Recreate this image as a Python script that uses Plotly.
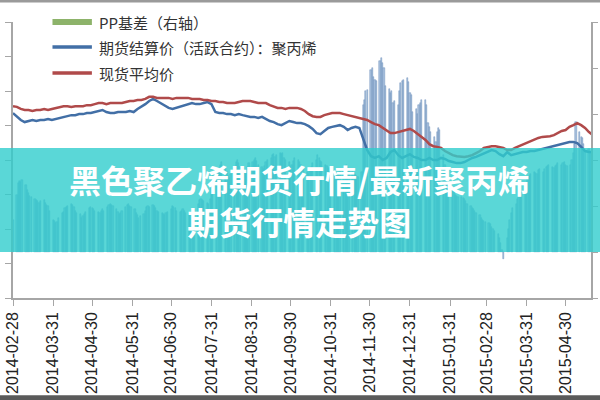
import pandas as pd
import plotly.graph_objects as go

# ---------------- data ----------------
line_dates = pd.date_range("2014-02-28", periods=150, freq="3D")

spot_avg = [  # 现货平均价
    10560, 10540, 10480, 10450, 10450, 10420, 10450, 10450, 10480, 10450,
    10480, 10510, 10540, 10560, 10560, 10540, 10560, 10560, 10560, 10590,
    10590, 10620, 10650, 10650, 10620, 10650, 10650, 10650, 10650, 10680,
    10710, 10710, 10740, 10740, 10770, 10830, 10830, 10800, 10800, 10800,
    10800, 10770, 10800, 10800, 10800, 10800, 10770, 10770, 10770, 10740,
    10740, 10710, 10710, 10680, 10680, 10650, 10650, 10650, 10680, 10710,
    10710, 10710, 10680, 10650, 10650, 10650, 10590, 10560, 10510, 10510,
    10480, 10510, 10510, 10510, 10480, 10420, 10330, 10270, 10250, 10250,
    10300, 10330, 10360, 10360, 10360, 10330, 10300, 10270, 10250, 10220,
    10190, 10160, 10100, 10040, 10010, 9930, 9840, 9780, 9780, 9810,
    9840, 9870, 9900, 9840, 9750, 9670, 9580, 9460, 9400, 9380,
    9350, 9260, 9200, 9140, 9110, 9090, 9090, 9110, 9140, 9200,
    9260, 9350, 9380, 9400, 9400, 9380, 9350, 9290, 9290, 9350,
    9400, 9460, 9490, 9550, 9610, 9640, 9670, 9670, 9690, 9720,
    9780, 9840, 9870, 9960, 10010, 10070, 10010, 9930, 9810, 9720,
]

futures_settle = [  # 期货结算价(活跃合约):聚丙烯
    10360, 10270, 10160, 10100, 10130, 10160, 10130, 10160, 10160, 10190,
    10160, 10190, 10220, 10250, 10270, 10300, 10300, 10330, 10330, 10360,
    10360, 10390, 10420, 10450, 10390, 10360, 10360, 10390, 10390, 10390,
    10420, 10390, 10480, 10540, 10620, 10710, 10770, 10710, 10650, 10590,
    10510, 10480, 10510, 10560, 10590, 10620, 10650, 10620, 10620, 10650,
    10680, 10620, 10390, 10360, 10360, 10330, 10330, 10300, 10330, 10300,
    10270, 10250, 10250, 10220, 10250, 10190, 10130, 10100, 10040, 10010,
    10070, 10130, 10100, 10070, 10070, 10040, 9980, 9900, 9780, 9750,
    9840, 9930, 9960, 9980, 10010, 9960, 9870, 9930, 9960, 9930,
    9580, 9290, 9110, 9060, 9110, 9000, 9060, 9230, 9290, 9140,
    9060, 9110, 9170, 9090, 9060, 9000, 9000, 9060, 9000, 9000,
    9060, 9030, 8970, 8940, 8910, 8910, 8940, 9000, 9060, 9090,
    9140, 9200, 9230, 9290, 9260, 9170, 9110, 9230, 9140, 9170,
    9200, 9230, 9230, 9260, 9260, 9290, 9320, 9350, 9380, 9400,
    9430, 9460, 9490, 9520, 9520, 9490, 9380, 9260, 9230, 9230,
]

bar_dates = pd.bdate_range("2014-02-28", "2015-05-19")

pp_basis = [  # PP基差（右轴）
    140,
    250, 300, 310, 305, 313,   290, 270, 255, 245, 240,
    230, 226, 220, 215, 220,   226, 215, 205, 200, 180,
    140, 135, 125, 130, 150,   170, 175, 190, 195, 200,
    210, 205, 195, 180, 170,   165, 150, 155, 165, 175,
    190, 195, 190, 185, 180,   175, 170, 180, 185, 180,
    195, 205, 210, 205, 200,   185, 175, 165, 170, 180,
    195, 205, 210, 200, 195,   185, 170, 160, 150, 155,
    165, 180, 195, 200, 195,   205, 200, 190, 180, 175,
    170, 165, 160, 170, 175,   185, 200, 195, 190, 180,
    175, 180, 185, 180, 170,   165, 170, 175, 180, 185,
    210, 225, 230, 225, 220,   215, 210, 230, 310, 340,
    330, 350, 360, 380, 390,   370, 350, 330, 320, 340,
    370, 390, 400, 385, 370,   350, 340, 355, 370, 385,
    390, 400, 410, 395, 380,   370, 360, 375, 390, 400,
    410, 420, 425, 415, 420,   430, 425, 430, 410, 400,
    390, 370, 380, 395, 410,   400, 390, 380, 370, 360,
    350, 340, 355, 370, 385,   400, 420, 410, 395, 390,
    380, 375, 365, 350, 345,   340, 335, 330, 340, 350,
    360, 375, 380, 370, 360,   350, 345, 335, 330, 325,
    350, 640, 660, 700, 705,   790, 800, 760, 750, 745,
    830, 845, 820, 800, 720,   710, 690, 700, 650, 655,
    640, 700, 735, 745, 748,   757, 740, 690, 683, 610,
    620, 600, 640, 648, 660,   661, 640, 560, 544, 520,
    500, 480, 520, 539, 530,   420, 380, 330, 300, 280,
    270, 260, 250, 245, 240,   240, 235, 230, 220, 210,
    200, 190, 185, 180, 170,   160, 150, 140, 135, 130,
    125, 120, 110, 100, 90,    80, 60, 40, 10, -30,
    60, 100, 140, 170, 190,    210, 230, 240, 250, 260,
    280, 300, 320, 330, 340,   350, 345, 340, 355, 360,
    350, 360, 370, 375, 380,   370, 365, 375, 380, 385,
    380, 385, 390, 380, 375,   380, 400, 430, 470, 565,
    520, 500, 495, 470, 440,   450, 430,
]

tick_labels = [
    "2014-02-28", "2014-03-31", "2014-04-30", "2014-05-31", "2014-06-30",
    "2014-07-31", "2014-08-31", "2014-09-30", "2014-10-31", "2014-11-30",
    "2014-12-31", "2015-01-31", "2015-02-28", "2015-03-31", "2015-04-30",
]

legend_names = ["PP基差（右轴）", "期货结算价（活跃合约）：聚丙烯", "现货平均价"]
legend_colors = ["#8db36a", "#426fa6", "#b04a4a"]

title_lines = ["黑色聚乙烯期货行情/最新聚丙烯", "期货行情走势图"]

# ---------------- figure ----------------
fig = go.Figure()

fig.add_trace(go.Bar(
    x=bar_dates, y=pp_basis, yaxis="y", name=legend_names[0],
    width=86400000 * 0.95,
    marker=dict(color="#a9c1de", line=dict(color="#6e90bd", width=0.5)),
    showlegend=False,
))
fig.add_trace(go.Scatter(
    x=line_dates, y=futures_settle, yaxis="y2", mode="lines",
    name=legend_names[1], line=dict(color=legend_colors[1], width=2.5),
    showlegend=False,
))
fig.add_trace(go.Scatter(
    x=line_dates, y=spot_avg, yaxis="y2", mode="lines",
    name=legend_names[2], line=dict(color=legend_colors[2], width=2.5),
    showlegend=False,
))

axis_line = "#a6a6a6"
fig.update_layout(
    width=600, height=400,
    margin=dict(l=10, r=4, t=22, b=102, pad=0),
    paper_bgcolor="white", plot_bgcolor="white",
    bargap=0,
    xaxis=dict(
        type="date", range=["2014-02-28", "2015-05-19 14:00"],
        tickvals=tick_labels, ticktext=tick_labels, tickangle=-90,
        ticks="outside", ticklen=6, tickcolor=axis_line,
        showline=True, linecolor=axis_line, linewidth=1.5,
        showgrid=False, zeroline=False,
        tickfont=dict(family="Liberation Sans, Arial", size=16, color="#222222"),
    ),
    yaxis=dict(
        side="right", range=[-200, 1000], dtick=200, tick0=0,
        ticks="outside", ticklen=5, tickcolor=axis_line,
        showline=True, linecolor=axis_line, linewidth=1.5,
        showgrid=False, zeroline=False, showticklabels=False,
    ),
    yaxis2=dict(
        overlaying="y", side="left", range=[5000, 13000], dtick=1000,
        ticks="outside", ticklen=6, tickcolor=axis_line,
        showline=True, linecolor=axis_line, linewidth=1.5,
        showgrid=False, zeroline=False, showticklabels=False,
    ),
    font=dict(family="Noto Sans CJK SC"),
)

# custom legend (swatch + text)
leg_y = [1.0, 0.9094, 0.8152]
leg_w = [6, 3.5, 3.5]
for name, col, yy, w in zip(legend_names, legend_colors, leg_y, leg_w):
    fig.add_shape(type="line", xref="paper", yref="paper",
                  x0=0.0683, x1=0.1365, y0=yy, y1=yy,
                  line=dict(color=col, width=w))
    fig.add_annotation(xref="paper", yref="paper", x=0.145, y=yy,
                       xanchor="left", yanchor="middle", showarrow=False,
                       text=name,
                       font=dict(family="Noto Sans CJK SC", size=15, color="#333333"))

# frame bands
fig.add_shape(type="rect", xref="paper", yref="paper",
              x0=-0.03, x1=1.03, y0=1.0707, y1=1.12,
              fillcolor="#9a9a9a", line=dict(width=0), layer="above")
fig.add_shape(type="rect", xref="paper", yref="paper",
              x0=-0.03, x1=1.03, y0=-0.40, y1=-0.352,
              fillcolor="#5a5a5a", line=dict(width=0), layer="above")

# banner
fig.add_shape(type="rect", xref="paper", yref="paper",
              x0=-0.03, x1=1.03, y0=0.1667, y1=0.5435,
              fillcolor="rgba(49,205,205,0.8)", line=dict(width=0), layer="above")
fig.add_annotation(xref="paper", yref="paper", x=0.4949, y=0.355,
                   xanchor="center", yanchor="middle", showarrow=False,
                   align="center",
                   text="<b>" + title_lines[0] + "<br>" + title_lines[1] + "</b>",
                   font=dict(family="Noto Sans CJK SC", size=32, color="white"))

fig.write_html("out.html", config={"displayModeBar": False},
               post_script="document.body.style.margin='0';")
